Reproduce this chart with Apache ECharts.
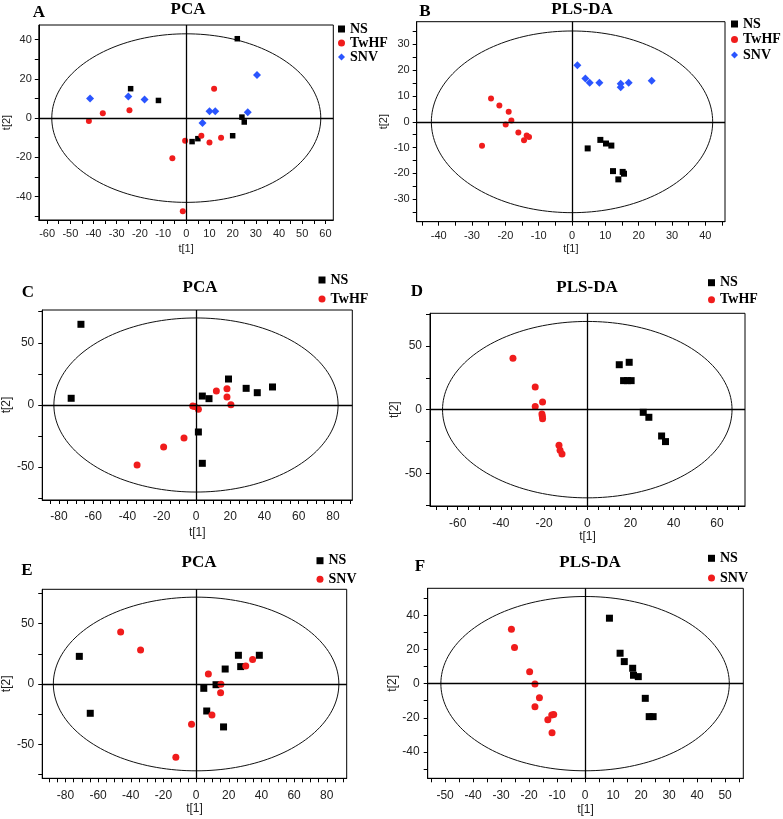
<!DOCTYPE html>
<html>
<head>
<meta charset="utf-8">
<script src="https://cdn.jsdelivr.net/npm/echarts@6/dist/echarts.min.js"></script>
<style>
html,body{margin:0;padding:0;background:#fff;}
#chart{width:783px;height:819px;}
</style>
</head>
<body>
<div id="chart"></div>
<script>
// ---------- data (score values) ----------
const A_NS   = [[22,40.5],[-24,15],[-12,9],[24,0.5],[25,-2],[20,-9],[5,-10.5],[2.5,-12]];
const A_TwHF = [[-42,-1.5],[-36,2.5],[-24.5,4],[12,15],[6.5,-9],[15,-10],[10,-12.5],[-0.5,-11.5],[-6,-20.5],[-1.5,-47.5]];
const A_SNV  = [[-41.5,10],[-25,11],[-18,9.5],[7,-2.5],[10,3.5],[12.5,3.5],[26.5,3],[30.5,22]];

const B_NS   = [[4.7,-10.3],[8.5,-7],[10.2,-8.4],[11.8,-9.2],[12.3,-19.1],[15.2,-19.4],[15.6,-20.1],[13.9,-22.3]];
const B_TwHF = [[-24.3,9],[-21.8,6.3],[-19,3.9],[-18.2,0.5],[-19.9,-1],[-16.1,-4.1],[-13.6,-5.3],[-12.9,-5.9],[-14.4,-7.1],[-27,-9.3]];
const B_SNV  = [[1.6,21.9],[4,16.8],[5.3,15.1],[8.2,15.1],[14.6,14.8],[14.6,13.4],[17,15.1],[23.9,15.9]];

const C_NS   = [[-67.2,64.9],[-72.9,5.4],[3.7,7.2],[7.6,5.1],[19,20.9],[29.3,13.4],[35.8,9.9],[44.7,14.5],[1.4,-21.7],[3.7,-46.9]];
const C_TwHF = [[-34.4,-48.3],[-18.9,-33.8],[-7,-26.5],[-1.9,-0.8],[-0.8,-1.3],[1.4,-3.5],[11.9,11.3],[18.1,13.1],[18.1,6.4],[20.4,0.3]];

const D_NS   = [[14.8,35.3],[19.4,37.2],[16.8,22.8],[18.6,22.8],[20.3,22.8],[25.9,-2.1],[28.5,-6],[34.4,-20.7],[36.2,-25.1]];
const D_TwHF = [[-34.4,40.3],[-24.1,17.8],[-20.7,6],[-24.1,2.4],[-21,-3.4],[-20.8,-5.2],[-20.7,-7.1],[-13.1,-28],[-12.6,-31.9],[-11.7,-34.8]];

const E_NS   = [[-71.5,22.9],[-64.8,-24.3],[4.7,-3.6],[12.2,-0.6],[17.8,12.4],[25.9,23.8],[27.3,14.4],[38.7,23.8],[6.5,-22.4],[16.8,-35.6]];
const E_SNV  = [[-46.2,43.1],[-34,28.2],[7.5,8.3],[15.2,-0.3],[15,-7.2],[9.7,-25.7],[-2.8,-33.4],[-12.4,-60.8],[30.4,14.9],[34.6,20.4]];

const F_NS   = [[8.7,38.3],[12.5,17.8],[14,12.9],[17,9],[17.3,4.9],[19,4.1],[21.5,-8.6],[22.9,-19.3],[24.3,-19.3]];
const F_SNV  = [[-26.3,31.8],[-25.2,21.1],[-19.8,7],[-17.9,-0.2],[-16.3,-8.2],[-17.9,-13.5],[-13.3,-21.1],[-11.9,-18.3],[-11.2,-18.1],[-11.8,-28.7]];

// Hotelling T2 ellipse semi-axes [t1, t2]
const ELLIPSES = [[58,43],[42.2,35.2],[83,70],[67,69.3],[87.4,72],[51.5,51]];

// axis ranges
const X_RANGES = [[-63.6,63.4],[-46.6,45.9],[-89.8,91.3],[-72.8,73],[-94.2,92.2],[-56.2,56.5]];
const Y_RANGES = [[-52,47.5],[-38.7,38.8],[-76.4,76.4],[-75.7,75.7],[-78.2,78.5],[-55.4,55.8]];

// tick marks and tick labels
const X_TICKS = [
  [-60,-55,-50,-45,-40,-35,-30,-25,-20,-15,-10,-5,0,5,10,15,20,25,30,35,40,45,50,55,60],
  [-45,-40,-35,-30,-25,-20,-15,-10,-5,0,5,10,15,20,25,30,35,40,45],
  [-90,-85,-80,-75,-70,-65,-60,-55,-50,-45,-40,-35,-30,-25,-20,-15,-10,-5,0,5,10,15,20,25,30,35,40,45,50,55,60,65,70,75,80,85,90],
  [-70,-65,-60,-55,-50,-45,-40,-35,-30,-25,-20,-15,-10,-5,0,5,10,15,20,25,30,35,40,45,50,55,60,65,70],
  [-90,-85,-80,-75,-70,-65,-60,-55,-50,-45,-40,-35,-30,-25,-20,-15,-10,-5,0,5,10,15,20,25,30,35,40,45,50,55,60,65,70,75,80,85,90],
  [-55,-50,-45,-40,-35,-30,-25,-20,-15,-10,-5,0,5,10,15,20,25,30,35,40,45,50,55]
];
const X_LABELS = [
  [-60,-50,-40,-30,-20,-10,0,10,20,30,40,50,60],
  [-40,-30,-20,-10,0,10,20,30,40],
  [-80,-60,-40,-20,0,20,40,60,80],
  [-60,-40,-20,0,20,40,60],
  [-80,-60,-40,-20,0,20,40,60,80],
  [-50,-40,-30,-20,-10,0,10,20,30,40,50]
];
const Y_TICKS = [
  [-50,-40,-30,-20,-10,0,10,20,30,40],
  [-35,-30,-25,-20,-15,-10,-5,0,5,10,15,20,25,30,35],
  [-75,-50,-25,0,25,50,75],
  [-75,-50,-25,0,25,50,75],
  [-75,-50,-25,0,25,50,75],
  [-50,-40,-30,-20,-10,0,10,20,30,40,50]
];
const Y_LABELS = [
  [-40,-20,0,20,40],
  [-30,-20,-10,0,10,20,30],
  [-50,0,50],
  [-50,0,50],
  [-50,0,50],
  [-40,-20,0,20,40]
];

const PANEL_LETTERS = ['A','B','C','D','E','F'];
const PANEL_TITLES = ['PCA','PLS-DA','PCA','PLS-DA','PCA','PLS-DA'];

// ---------- styling / layout ----------
const RED = '#f01c1c', BLUE = '#2a55ff', BLACK = '#000';
const STY = {
  NS:   {symbol:'rect', color:BLACK},
  TwHF: {symbol:'circle', color:RED},
  SNV:  {symbol:'diamond', color:BLUE},
  SNVr: {symbol:'circle', color:RED}
};
const PANELS = [
  {grid:{left:32.3, top:25, width:301, height:195}, groups:[['NS',A_NS,'NS'],['TwHF',A_TwHF,'TwHF'],['SNV',A_SNV,'SNV']], size:{NS:5.5,TwHF:6,SNV:8},
   lab:11, xMargin:8, yMargin:7, xNameGap:23, yNameGap:22,
   letter:[39,13], title:[188,10], legend:{left:338, top:22, gap:0, w:7}},
  {grid:{left:416.7, top:21.7, width:308.3, height:200}, groups:[['NS',B_NS,'NS'],['TwHF',B_TwHF,'TwHF'],['SNV',B_SNV,'SNV']], size:{NS:6,TwHF:6,SNV:8},
   lab:11, xMargin:9, yMargin:7, xNameGap:22, yNameGap:22,
   letter:[425,12], title:[582,10], legend:{left:731, top:17, gap:1.5, w:7}},
  {grid:{left:41.7, top:310, width:310.6, height:190}, groups:[['NS',C_NS,'NS'],['TwHF',C_TwHF,'TwHF']], size:{NS:7,TwHF:7},
   lab:12, xMargin:11, yMargin:8, xNameGap:27, yNameGap:28,
   letter:[28,293], title:[200,288], legend:{left:318.5, top:273, gap:5, w:7}},
  {grid:{left:430, top:313.3, width:315, height:192.7}, groups:[['NS',D_NS,'NS'],['TwHF',D_TwHF,'TwHF']], size:{NS:7,TwHF:7},
   lab:12, xMargin:12, yMargin:8, xNameGap:25, yNameGap:22,
   letter:[417,292], title:[587,288], legend:{left:708, top:275.7, gap:3, w:7}},
  {grid:{left:40, top:589.3, width:306.7, height:189}, groups:[['NS',E_NS,'NS'],['SNV',E_SNV,'SNVr']], size:{NS:7,SNVr:7},
   lab:12, xMargin:11, yMargin:8, xNameGap:23, yNameGap:27,
   letter:[27,571], title:[199,563], legend:{left:316.5, top:553.7, gap:4.6, w:7}},
  {grid:{left:427.7, top:588.3, width:315.6, height:190}, groups:[['NS',F_NS,'NS'],['SNV',F_SNV,'SNVr']], size:{NS:7,SNVr:7},
   lab:12, xMargin:11, yMargin:8, xNameGap:25, yNameGap:24,
   letter:[420,567], title:[590,563], legend:{left:708, top:551.3, gap:5.7, w:7}}
];

function ellipsePts(a, b){
  const pts = [];
  for (let i = 0; i <= 180; i++){
    const t = 2*Math.PI*i/180;
    pts.push([a*Math.cos(t), b*Math.sin(t)]);
  }
  return pts;
}

const grids = [], xAxes = [], yAxes = [], series = [], legends = [], graphics = [];
const sans = 'Liberation Sans, Arial, sans-serif';
const serif = 'Liberation Serif, Times New Roman, serif';

PANELS.forEach((p, i) => {
  grids.push(Object.assign({show:true, borderColor:'#000', borderWidth:1, backgroundColor:'transparent'}, p.grid));
  xAxes.push({
    gridIndex:i, type:'value', min:X_RANGES[i][0], max:X_RANGES[i][1],
    axisLine:{onZero:false, lineStyle:{color:'#000', width:1}},
    axisTick:{customValues:X_TICKS[i], length:4, lineStyle:{color:'#000'}},
    axisLabel:{customValues:X_LABELS[i], fontSize:p.lab, color:'#222', margin:p.xMargin, fontFamily:sans},
    splitLine:{show:false},
    name:'t[1]', nameLocation:'middle', nameGap:p.xNameGap,
    nameTextStyle:{fontSize:p.lab, color:'#222', fontFamily:sans}
  });
  yAxes.push({
    gridIndex:i, type:'value', min:Y_RANGES[i][0], max:Y_RANGES[i][1],
    axisLine:{onZero:false, lineStyle:{color:'#000', width:1}},
    axisTick:{customValues:Y_TICKS[i], length:4, lineStyle:{color:'#000'}},
    axisLabel:{customValues:Y_LABELS[i], fontSize:p.lab, color:'#222', margin:p.yMargin, fontFamily:sans},
    splitLine:{show:false},
    name:'t[2]', nameLocation:'middle', nameGap:p.yNameGap, nameRotate:90,
    nameTextStyle:{fontSize:p.lab, color:'#222', fontFamily:sans}
  });
  // ellipse + zero lines
  series.push({
    type:'line', xAxisIndex:i, yAxisIndex:i, data:ellipsePts(ELLIPSES[i][0], ELLIPSES[i][1]),
    showSymbol:false, symbol:'none', silent:true, z:1,
    lineStyle:{color:'#111', width:1},
    markLine:{silent:true, symbol:'none', label:{show:false},
      lineStyle:{color:'#000', width:1.3, type:'solid'},
      data:[{xAxis:0},{yAxis:0}]}
  });
  const legData = [];
  p.groups.forEach(([name, data, sk]) => {
    const st = STY[sk];
    series.push({
      type:'scatter', name:name, xAxisIndex:i, yAxisIndex:i, data:data,
      symbol:st.symbol, symbolSize:p.size[sk], z:3,
      itemStyle:{color:st.color, opacity:1}
    });
    legData.push({name:name, icon:st.symbol, itemStyle:{color:st.color}});
  });
  legends.push({
    orient:'vertical', left:p.legend.left, top:p.legend.top, padding:0,
    itemWidth:p.legend.w, itemHeight:p.legend.w, itemGap:p.legend.gap,
    selectedMode:false, data:legData,
    textStyle:{fontFamily:serif, fontWeight:'bold', fontSize:14, color:'#000'}
  });
  graphics.push({type:'text', x:p.letter[0], y:p.letter[1], style:{text:PANEL_LETTERS[i], font:'bold 17px ' + serif, fill:'#000', textAlign:'center', textVerticalAlign:'middle'}});
  graphics.push({type:'text', x:p.title[0], y:p.title[1], style:{text:PANEL_TITLES[i], font:'bold 17px ' + serif, fill:'#000', textAlign:'center', textVerticalAlign:'middle'}});
});

const chart = echarts.init(document.getElementById('chart'), null, {renderer:'canvas'});
chart.setOption({
  animation:false,
  backgroundColor:'#fff',
  grid:grids, xAxis:xAxes, yAxis:yAxes, series:series, legend:legends,
  graphic:graphics
});
</script>
</body>
</html>
